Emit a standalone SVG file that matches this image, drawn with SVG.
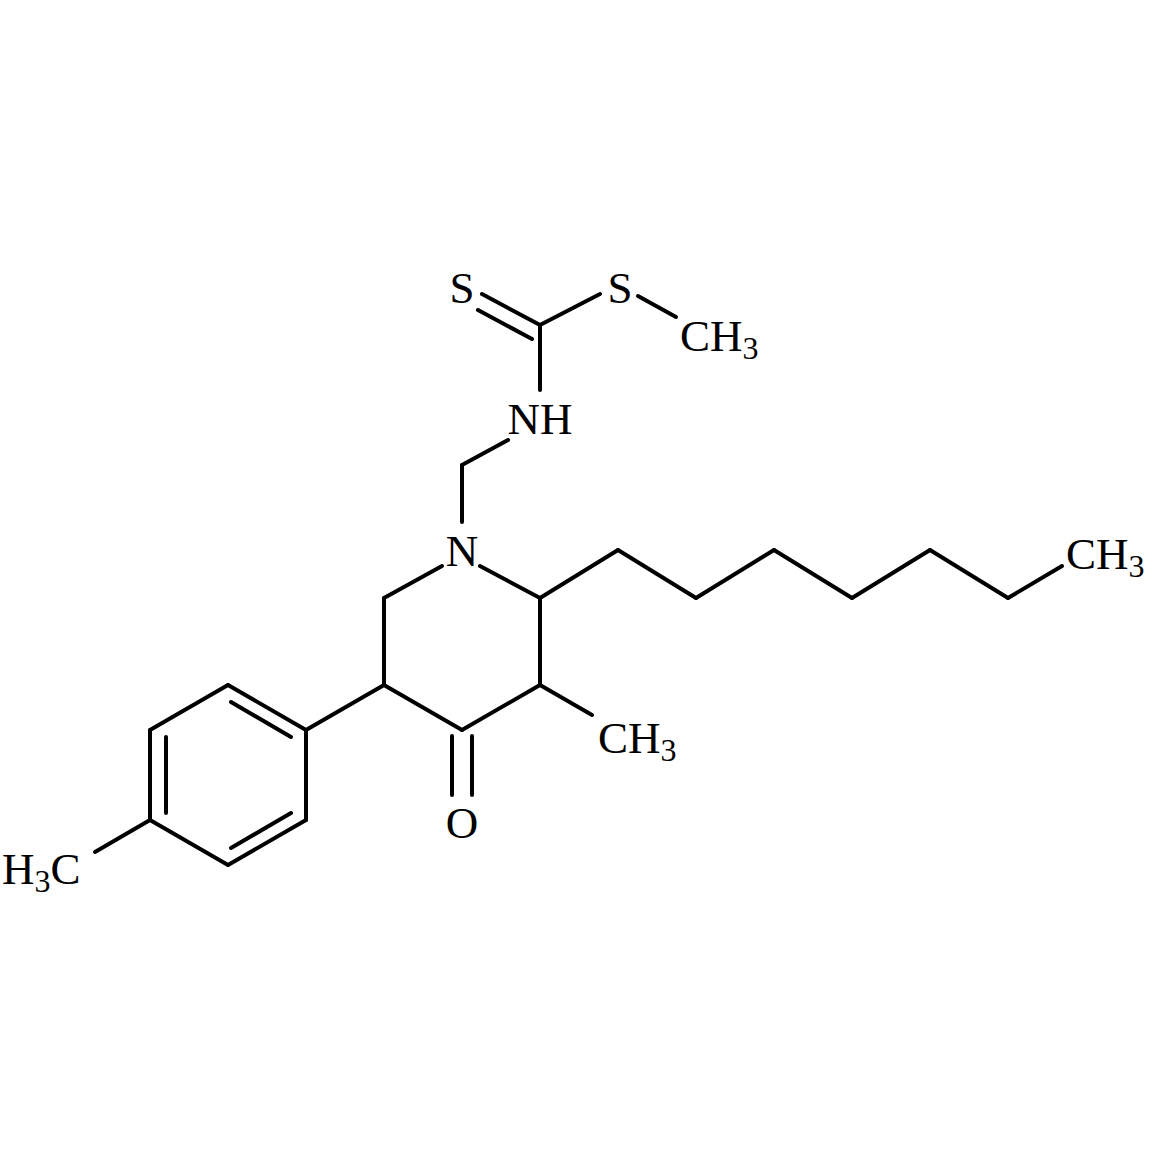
<svg xmlns="http://www.w3.org/2000/svg" width="1157" height="1157" viewBox="0 0 1157 1157">
<style>
line{stroke:#000;stroke-width:4;stroke-linecap:round}
text{font-family:"Liberation Serif",serif;font-size:45px;fill:#000}
.s{font-size:32px}
</style>
<rect width="1157" height="1157" fill="#fff"/>
<g id="bonds">
<line x1="540" y1="325" x2="482" y2="294"/>
<line x1="532" y1="339" x2="478" y2="310"/>
<line x1="540" y1="325" x2="600" y2="294"/>
<line x1="638" y1="296" x2="676" y2="317"/>
<line x1="540" y1="325" x2="540" y2="390"/>
<line x1="508" y1="440" x2="462" y2="465"/>
<line x1="462" y1="465" x2="462" y2="522"/>
<line x1="480" y1="566" x2="540" y2="598"/>
<line x1="442" y1="566" x2="384" y2="598"/>
<line x1="384" y1="598" x2="384" y2="685"/>
<line x1="384" y1="685" x2="462" y2="730"/>
<line x1="462" y1="730" x2="540" y2="685"/>
<line x1="540" y1="685" x2="540" y2="598"/>
<line x1="452" y1="736" x2="452" y2="795"/>
<line x1="472" y1="736" x2="472" y2="795"/>
<line x1="540" y1="685" x2="592" y2="715"/>
<line x1="540" y1="598" x2="618" y2="550"/>
<line x1="618" y1="550" x2="696" y2="598"/>
<line x1="696" y1="598" x2="774" y2="550"/>
<line x1="774" y1="550" x2="852" y2="598"/>
<line x1="852" y1="598" x2="930" y2="550"/>
<line x1="930" y1="550" x2="1008" y2="598"/>
<line x1="1008" y1="598" x2="1062" y2="566"/>
<line x1="384" y1="685" x2="306" y2="730"/>
<line x1="306" y1="730" x2="228" y2="685"/>
<line x1="228" y1="685" x2="150" y2="730"/>
<line x1="150" y1="730" x2="150" y2="820"/>
<line x1="150" y1="820" x2="228" y2="865"/>
<line x1="228" y1="865" x2="306" y2="820"/>
<line x1="306" y1="820" x2="306" y2="730"/>
<line x1="231" y1="702" x2="291" y2="737"/>
<line x1="166" y1="737" x2="166" y2="813"/>
<line x1="231" y1="848" x2="291" y2="813"/>
<line x1="150" y1="820" x2="95" y2="852"/>
</g>
<g id="labels">
<text x="462" y="303" text-anchor="middle">S</text>
<text x="620" y="303" text-anchor="middle">S</text>
<text x="680" y="351">CH<tspan class="s" dy="8">3</tspan></text>
<text x="540" y="434" text-anchor="middle">NH</text>
<text x="462" y="566" text-anchor="middle">N</text>
<text x="462" y="838" text-anchor="middle">O</text>
<text x="598" y="753">CH<tspan class="s" dy="8">3</tspan></text>
<text x="1066" y="569">CH<tspan class="s" dy="8">3</tspan></text>
<text x="2" y="884">H<tspan class="s" dy="8">3</tspan><tspan dy="-8">C</tspan></text>
</g>
</svg>
